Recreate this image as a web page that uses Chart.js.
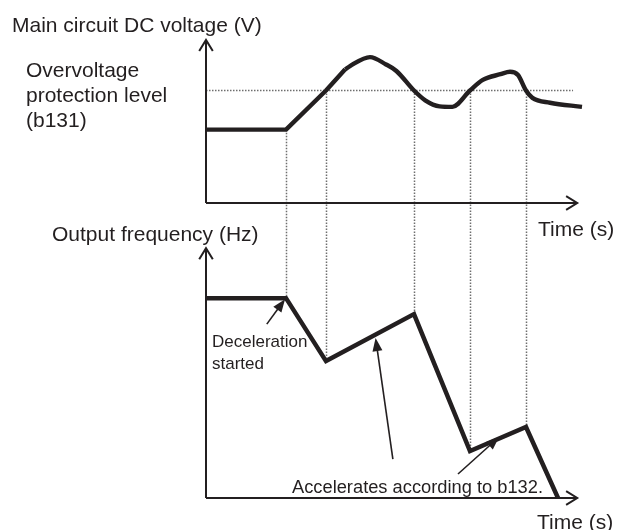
<!DOCTYPE html>
<html>
<head>
<meta charset="utf-8">
<script src="https://cdn.jsdelivr.net/npm/chart.js@4.4.1/dist/chart.umd.min.js"></script>
<style>
  html, body { margin: 0; padding: 0; background: #fff; }
  canvas { display: block; }
</style>
</head>
<body>
<canvas id="grafico" width="622" height="530"></canvas>
<script>
// Tempo (s) e tensão do barramento CC (unidade relativa)
const voltTime  = [0, 2.5, 3.75, 4.35, 4.5, 5.125, 5.625, 5.95, 6.5, 6.85, 7.3, 7.7, 8.25, 8.65, 9.2, 9.5, 9.75, 10, 10.2, 10.75, 11.75];
const voltValue = [45, 45, 69, 82, 84, 89.5, 85, 81, 69, 63, 59.3, 59, 69, 75.5, 79, 80.5, 78.5, 69, 64.5, 61.5, 59];

// Tempo (s) e frequência de saída (Hz)
const freqTime  = [0, 2.5, 3.75, 6.5, 8.25, 10, 11];
const freqValue = [60, 60, 41.1, 55.2, 14.1, 21.3, 0];

// Nível de proteção contra sobretensão (b131)
const protectionLevel = 69;
const levelTime = [0, 11.47];

// Instantes marcados com linhas pontilhadas entre os dois gráficos
const markTime = [2.5, 3.75, 6.5, 8.25, 10];

const INK = '#231f20';
const DOT = '#6e6e6e';
const FONT = "'Liberation Sans', Arial, Helvetica, sans-serif";

const pontos = (xs, ys) => xs.map((x, i) => ({ x, y: ys[i] }));
const tensao = pontos(voltTime, voltValue);

function seta(ctx, x1, y1, x2, y2) {
  const ang = Math.atan2(y2 - y1, x2 - x1);
  const len = 13, half = 5;
  ctx.beginPath();
  ctx.moveTo(x1, y1);
  ctx.lineTo(x2 - Math.cos(ang) * len * 0.8, y2 - Math.sin(ang) * len * 0.8);
  ctx.stroke();
  ctx.beginPath();
  ctx.moveTo(x2, y2);
  ctx.lineTo(x2 - Math.cos(ang) * len - Math.sin(ang) * half, y2 - Math.sin(ang) * len + Math.cos(ang) * half);
  ctx.lineTo(x2 - Math.cos(ang) * len + Math.sin(ang) * half, y2 - Math.sin(ang) * len - Math.cos(ang) * half);
  ctx.closePath();
  ctx.fill();
}

function eixo(ctx, x0, y0, x1, y1) {
  ctx.beginPath();
  ctx.moveTo(x0, y0);
  ctx.lineTo(x1, y1);
  ctx.stroke();
  // ponta aberta
  const ang = Math.atan2(y1 - y0, x1 - x0);
  const len = 13, abre = 0.55;
  ctx.beginPath();
  ctx.moveTo(x1 - Math.cos(ang - abre) * len, y1 - Math.sin(ang - abre) * len);
  ctx.lineTo(x1, y1);
  ctx.lineTo(x1 - Math.cos(ang + abre) * len, y1 - Math.sin(ang + abre) * len);
  ctx.stroke();
}

// Setas de anotação em (tempo, Hz): origem -> ponta
const anotacoes = [
  [1.9, 52.2, 2.47, 59.7],
  [5.84, 11.7, 5.3, 48.0],
  [7.875, 7.2, 9.16, 18.3]
];

const diagrama = {
  id: 'diagrama',
  beforeDatasetsDraw(chart) {
    const { ctx, scales: { x, yV, yF } } = chart;
    ctx.save();
    ctx.strokeStyle = DOT;
    ctx.lineWidth = 1.5;
    ctx.setLineDash([1.5, 1.5]);
    markTime.forEach(t => {
      const i = voltTime.indexOf(t);
      const v = t === 2.5 ? voltValue[i] : protectionLevel;
      const px = Math.round(x.getPixelForValue(t)) + 0.5;
      ctx.beginPath();
      ctx.moveTo(px, yV.getPixelForValue(v));
      ctx.lineTo(px, yF.getPixelForValue(freqValue[freqTime.indexOf(t)]));
      ctx.stroke();
    });
    ctx.restore();
  },
  afterDatasetsDraw(chart) {
    const { ctx, scales: { x, yV, yF } } = chart;
    const x0 = x.getPixelForValue(0);
    const xFim = x.getPixelForValue(11.6);
    ctx.save();
    ctx.strokeStyle = INK;
    ctx.fillStyle = INK;
    ctx.lineWidth = 2;
    ctx.lineCap = 'butt';

    // eixos do gráfico de tensão
    eixo(ctx, x0, yV.getPixelForValue(0), x0, yV.getPixelForValue(100));
    eixo(ctx, x0, yV.getPixelForValue(0), xFim, yV.getPixelForValue(0));
    // eixos do gráfico de frequência
    eixo(ctx, x0, yF.getPixelForValue(0), x0, yF.getPixelForValue(75));
    eixo(ctx, x0, yF.getPixelForValue(0), xFim, yF.getPixelForValue(0));

    ctx.lineWidth = 1.6;
    anotacoes.forEach(([t1, f1, t2, f2]) => {
      seta(ctx, x.getPixelForValue(t1), yF.getPixelForValue(f1), x.getPixelForValue(t2), yF.getPixelForValue(f2));
    });

    ctx.textBaseline = 'alphabetic';
    ctx.font = `21px ${FONT}`;
    ctx.fillText('Main circuit DC voltage (V)', 12, 32);
    ctx.fillText('Overvoltage', 26, 77);
    ctx.fillText('protection level', 26, 102);
    ctx.fillText('(b131)', 26, 127);
    ctx.fillText('Output frequency (Hz)', 52, 241);
    ctx.fillText('Time (s)', 538, 236);
    ctx.fillText('Time (s)', 537, 529);

    ctx.font = `17px ${FONT}`;
    ctx.fillText('Deceleration', 212, 347);
    ctx.fillText('started', 212, 369);

    ctx.font = `18.3px ${FONT}`;
    ctx.fillText('Accelerates according to b132.', 292, 493);
    ctx.restore();
  }
};

new Chart(document.getElementById('grafico'), {
  type: 'line',
  data: {
    datasets: [
      {
        // trecho plano e subida linear
        data: tensao.slice(0, 4),
        yAxisID: 'yV',
        borderColor: INK,
        borderWidth: 4.4,
        tension: 0,
        borderJoinStyle: 'round',
        order: 0,
      },
      {
        data: tensao.slice(3),
        yAxisID: 'yV',
        borderColor: INK,
        borderWidth: 4.4,
        cubicInterpolationMode: 'monotone',
        borderJoinStyle: 'round',
        order: 0,
      },
      {
        data: pontos(freqTime, freqValue),
        yAxisID: 'yF',
        borderColor: INK,
        borderWidth: 4.5,
        tension: 0,
        borderJoinStyle: 'miter',
        order: 0,
      },
      {
        data: pontos(levelTime, levelTime.map(() => protectionLevel)),
        yAxisID: 'yV',
        borderColor: DOT,
        borderWidth: 1.5,
        borderDash: [1.5, 1.5],
        tension: 0,
        order: 5,
      },
    ],
  },
  options: {
    responsive: false,
    animation: false,
    events: [],
    elements: { point: { radius: 0 } },
    layout: { padding: { left: 206, right: 32, top: 40, bottom: 32 } },
    plugins: { legend: { display: false }, tooltip: { enabled: false } },
    scales: {
      x: { type: 'linear', min: 0, max: 12, display: false },
      yV: { type: 'linear', min: -181, max: 100, display: false },
      yF: { type: 'linear', min: 0, max: 137.5, display: false },
    },
  },
  plugins: [diagrama],
});
</script>
</body>
</html>
